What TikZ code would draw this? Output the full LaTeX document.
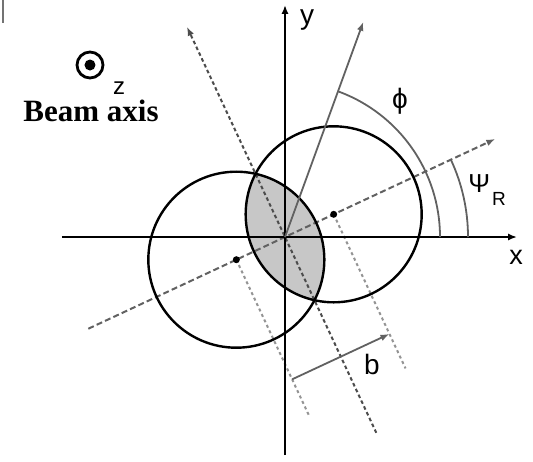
\documentclass[tikz,border=0pt]{standalone}
\usepackage{fontspec}
\setmainfont{Liberation Sans}
\newfontfamily\beamfont{Liberation Serif}
\usetikzlibrary{arrows.meta,calc}

\begin{document}
\begin{tikzpicture}[
  x=0.5pt, y=0.5pt,
  font=\fontsize{13.5}{15}\selectfont,
  axis/.style={line width=1pt, -{Latex[length=4.5pt, width=3.6pt]}},
  ring/.style={line width=1.2pt},
  plane/.style={draw=black!62, line width=1pt, dash pattern=on 3pt off 1.6pt},
  perp/.style={draw=black!70, line width=1pt, dash pattern=on 1.8pt off 1.4pt},
  guide/.style={draw=black!42, line width=1pt, dash pattern=on 1.5pt off 1.5pt},
  gline/.style={draw=black!62, line width=0.9pt},
  tip/.style={-{Latex[length=4.5pt, width=3.4pt]}},
  lbl/.style={inner sep=0pt}
]
\useasboundingbox (-285,-224) rectangle (248,237);

% frame fragment, top left
\draw[black!55, line width=1.2pt] (-282,237) -- (-282,214);

% centres of the two nuclei
\coordinate (O) at (0,0);
\coordinate (cR) at (25:53.7);
\coordinate (cL) at (205:53.7);

% overlap region
\begin{scope}
  \clip (cR) circle (88);
  \fill[black!22] (cL) circle (88);
\end{scope}

% reaction plane and its normal
\coordinate (rp0) at (205:217);
\coordinate (rp1) at (25:232);
\draw[plane, tip] (rp0) -- (rp1);
\coordinate (pp0) at (-65:216);
\coordinate (pp1) at (115:232);
\draw[perp, tip] (pp0) -- (pp1);

% guides through the centres
\coordinate (eR) at ($(cR)+(-65:170)$);
\coordinate (eL) at ($(cL)+(-65:172)$);
\draw[guide] (cR) -- (eR);
\draw[guide] (cL) -- (eL);

% impact parameter
\coordinate (bL) at ($(cL)+(-65:132)$);
\coordinate (bR) at ($(cR)+(-65:132)$);
\draw[gline, tip] (bL) -- (bR);
\node[lbl, font=\fontsize{14}{16}\selectfont] (b) at (87,-127) {b};

% nuclei
\draw[ring] (cR) circle (88);
\draw[ring] (cL) circle (88);
\fill (cR) circle (3.5);
\fill (cL) circle (3.5);

% axes
\coordinate (xL) at (-223,0);
\coordinate (xR) at (232,0);
\coordinate (yB) at (0,-218);
\coordinate (yT) at (0,232);
\draw[axis] (xL) -- (xR);
\draw[axis] (yB) -- (yT);
\node[lbl] (xlab) at (231,-20) {x};
\node[lbl, font=\fontsize{14}{16}\selectfont] (ylab) at (22,217) {y};

% azimuth and plane angle
\coordinate (ph) at (70:229);
\draw[gline, tip] (O) -- (ph);
\draw[gline] (70:155) arc[start angle=70, end angle=0, radius=155];
\draw[gline] (25:183) arc[start angle=25, end angle=0, radius=183];
\node[lbl, font=\fontsize{14}{16}\selectfont] (phlab) at (115,136) {ϕ};
\node[lbl, anchor=base west, font=\fontsize{13}{15}\selectfont] (psilab) at (183,45)
  {Ψ\hspace{1pt}\raisebox{-6.5pt}{\fontsize{9.5}{11}\selectfont R}};

% beam axis
\coordinate (zc) at (-195,172);
\draw[line width=1.4pt] (zc) circle (13);
\fill (zc) circle (5.5);
\node[lbl, font=\fontsize{12}{14}\selectfont] (zlab) at (-166,149) {z};
\node[lbl, font=\beamfont\bfseries\fontsize{15.5}{17}\selectfont] (beam) at (-194,126) {Beam axis};
\end{tikzpicture}
\end{document}
